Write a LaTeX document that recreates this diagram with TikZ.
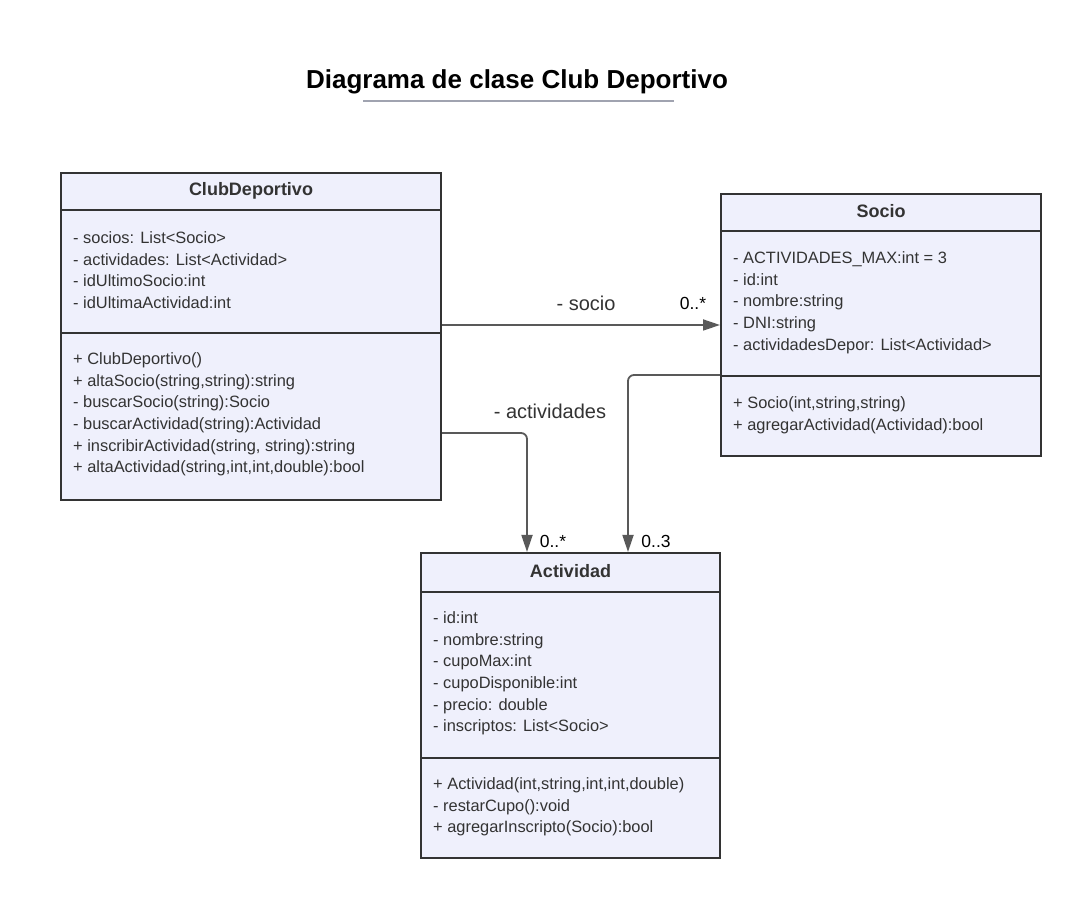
\documentclass[tikz,border=0pt]{standalone}
\usepackage{fontspec}
\setmainfont{Liberation Sans}
\usetikzlibrary{arrows.meta}

\definecolor{boxfill}{RGB}{239,240,252}
\definecolor{boxline}{RGB}{51,51,51}
\definecolor{arrowcol}{RGB}{89,89,89}
\definecolor{rulecol}{RGB}{160,163,176}

\tikzset{
  classbox/.style={draw=boxline, fill=boxfill, line width=2pt, inner sep=0pt},
  divider/.style={draw=boxline, line width=2pt},
  classname/.style={text=boxline, font=\fontsize{18}{21}\selectfont\bfseries},
  members/.style={text=boxline, anchor=north west, inner sep=0pt, align=left,
    font=\fontsize{16.4}{21.6}\selectfont},
  assoc/.style={draw=arrowcol, line width=1.8pt, rounded corners=6pt,
    -{Triangle[length=17pt,width=11pt]}},
  rolelabel/.style={text=boxline, font=\fontsize{20}{23}\selectfont, inner sep=0pt},
  multlabel/.style={text=black, font=\fontsize{17.5}{20}\selectfont, inner sep=0pt},
}

\begin{document}
\begin{tikzpicture}[x=1pt,y=1pt]
  \useasboundingbox (0,0) rectangle (1090,920);

  % title
  \node[font=\fontsize{26}{30}\selectfont\bfseries] (title) at (517,838) {Diagrama de clase Club Deportivo};
  \draw[rulecol, line width=1.8pt] (363,819) -- (674,819);

  % ClubDeportivo
  \node[classbox, minimum width=380pt, minimum height=327pt] (club) at (251,583.5) {};
  \draw[divider] (61,710) -- (441,710);
  \draw[divider] (61,587) -- (441,587);
  \node[classname] (clubname) at (251,729) {ClubDeportivo};
  \node[members] (clubattr) at (73,691.6) {\strut- socios: List<Socio>\\- actividades: List<Actividad>\\- idUltimoSocio:int\\- idUltimaActividad:int};
  \node[members] (clubops) at (73,570.6) {\strut+ ClubDeportivo()\\+ altaSocio(string,string):string\\- buscarSocio(string):Socio\\- buscarActividad(string):Actividad\\+ inscribirActividad(string, string):string\\+ altaActividad(string,int,int,double):bool};

  % Socio
  \node[classbox, minimum width=320pt, minimum height=262pt] (socio) at (881,595) {};
  \draw[divider] (721,689) -- (1041,689);
  \draw[divider] (721,544) -- (1041,544);
  \node[classname] (socioname) at (881,709) {Socio};
  \node[members] (socioattr) at (733,671.6) {\strut- ACTIVIDADES\_MAX:int = 3\\- id:int\\- nombre:string\\- DNI:string\\- actividadesDepor: List<Actividad>};
  \node[members] (socioops) at (733,526.6) {\strut+ Socio(int,string,string)\\+ agregarActividad(Actividad):bool};

  % Actividad
  \node[classbox, minimum width=299pt, minimum height=305pt] (act) at (570.5,214.5) {};
  \draw[divider] (421,328) -- (720,328);
  \draw[divider] (421,162) -- (720,162);
  \node[classname] (actname) at (570.5,349) {Actividad};
  \node[members] (actattr) at (433,311.6) {\strut- id:int\\- nombre:string\\- cupoMax:int\\- cupoDisponible:int\\- precio: double\\- inscriptos: List<Socio>};
  \node[members] (actops) at (433,145.6) {\strut+ Actividad(int,string,int,int,double)\\- restarCupo():void\\+ agregarInscripto(Socio):bool};

  % associations
  \draw[assoc] (club.east |- socio.west) -- (socio.west);
  \draw[assoc] ([yshift=-96.5pt]club.east) -| ([xshift=-43.5pt]act.north);
  \draw[assoc] ([yshift=-50pt]socio.west) -| ([xshift=57.5pt]act.north);

  \node[rolelabel] (socrole) at (586,617) {- socio};
  \node[multlabel] (socmult) at (693,617) {0..*};
  \node[rolelabel] (actrole) at (550,509) {- actividades};
  \node[multlabel] (actmult) at (553,379) {0..*};
  \node[multlabel] (sactmult) at (656,379) {0..3};
\end{tikzpicture}
\end{document}
